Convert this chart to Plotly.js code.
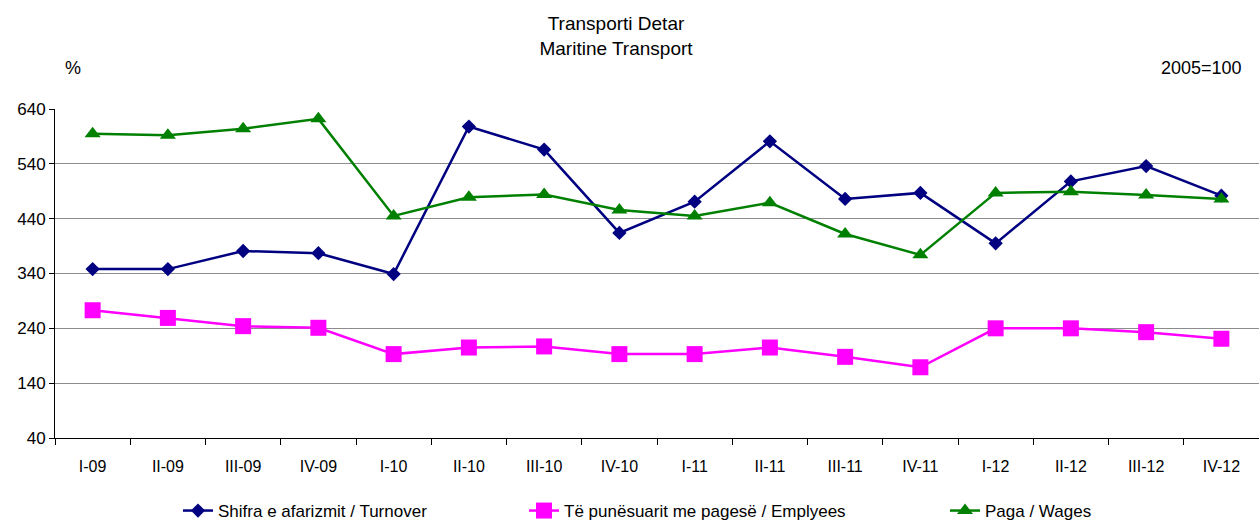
<!DOCTYPE html>
<html>
<head>
<meta charset="utf-8">
<script src="https://cdn.plot.ly/plotly-3.0.1.min.js"></script>
<style>html,body{margin:0;padding:0;background:#fff;}#chart{width:1259px;height:522px;}</style>
</head>
<body>
<div id="chart"></div>
<script>
const categories = ["I-09","II-09","III-09","IV-09","I-10","II-10","III-10","IV-10","I-11","II-11","III-11","IV-11","I-12","II-12","III-12","IV-12"];
const turnover  = [348, 348, 381, 377, 339, 608, 566, 414, 471, 581, 476, 487, 395, 508, 536, 482];
const employees = [273, 259, 244, 241, 193, 205, 207, 193, 193, 205, 188, 169, 240, 240, 233, 221];
const wages     = [595, 592, 604, 622, 445, 479, 484, 456, 445, 469, 412, 374, 487, 489, 483, 476];
const seriesNames = ["Shifra e afarizmit / Turnover", "Të punësuarit me pagesë / Emplyees", "Paga / Wages"];

const FONT = "'Liberation Sans', Arial, sans-serif";
const W = 1259, H = 522, L = 55, R = 0, T = 109, B = 84;
const pw = W - L - R, ph = H - T - B;
const px2x = p => (p - L) / pw;
const py2y = p => (H - B - p) / ph;

const traces = [
  {x: categories, y: turnover, name: seriesNames[0], type: "scatter", mode: "lines+markers",
   line: {color: "#000080", width: 2.5}, marker: {symbol: "diamond", size: 11, color: "#000080"}, legend: "legend"},
  {x: categories, y: employees, name: seriesNames[1], type: "scatter", mode: "lines+markers",
   line: {color: "#FF00FF", width: 2.5}, marker: {symbol: "square", size: 16, color: "#FF00FF"}, legend: "legend2"},
  {x: categories, y: wages, name: seriesNames[2], type: "scatter", mode: "lines+markers",
   line: {color: "#008000", width: 2.5}, marker: {symbol: "triangle-up", size: 14, color: "#008000"}, legend: "legend3"}
];

const legendBase = {orientation: "h", yref: "container", xref: "container", yanchor: "middle", xanchor: "left",
  y: (H - 511) / H,
  font: {family: FONT, size: 17, color: "#000"}, bgcolor: "rgba(0,0,0,0)", borderwidth: 0, itemclick: false};

const layout = {
  width: W, height: H,
  margin: {l: L, r: R, t: T, b: B, pad: 0},
  paper_bgcolor: "#fff", plot_bgcolor: "#fff",
  font: {family: FONT, size: 16, color: "#000"},
  title: {text: "Transporti Detar<br>Maritine Transport", font: {family: FONT, size: 19, color: "#000"},
          x: 616 / W, xref: "container", xanchor: "center", y: 1 - 30 / H, yref: "container", yanchor: "top"},
  xaxis: {type: "category", range: [-0.5, 15.5], showgrid: false, showline: true, linecolor: "#000", linewidth: 1,
          ticks: "outside", tickson: "boundaries", ticklen: 6, tickcolor: "#000", ticklabelstandoff: 14,
          tickfont: {family: FONT, size: 16, color: "#000"}, fixedrange: true, zeroline: false},
  yaxis: {range: [40, 640], tick0: 40, dtick: 100, showgrid: true, gridcolor: "#8c8c8c", gridwidth: 1,
          showline: true, linecolor: "#000", linewidth: 1, ticks: "outside", ticklen: 5, tickcolor: "#000",
          tickfont: {family: FONT, size: 17, color: "#000"}, zeroline: false, fixedrange: true},
  showlegend: true,
  legend: Object.assign({}, legendBase, {x: 178 / W}),
  legend2: Object.assign({}, legendBase, {x: 524 / W}),
  legend3: Object.assign({}, legendBase, {x: 945 / W}),
  annotations: [
    {text: "%", xref: "paper", yref: "paper", x: px2x(73), y: py2y(68), xanchor: "center", yanchor: "middle", showarrow: false,
     font: {family: FONT, size: 18, color: "#000"}},
    {text: "2005=100", xref: "paper", yref: "paper", x: px2x(1244), y: py2y(68), xanchor: "right", yanchor: "middle", showarrow: false,
     font: {family: FONT, size: 18, color: "#000"}}
  ]
};

Plotly.newPlot("chart", traces, layout, {staticPlot: true, displayModeBar: false});
</script>
</body>
</html>
